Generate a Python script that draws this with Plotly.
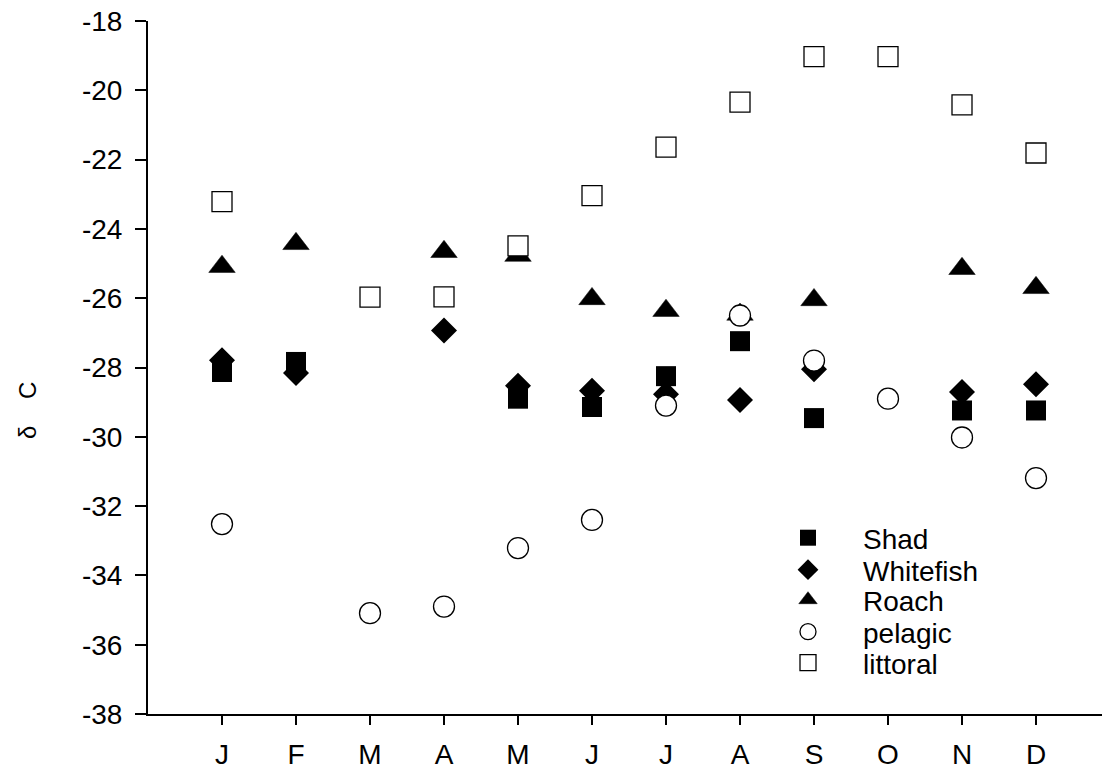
import plotly.graph_objects as go

months = ["J", "F", "M", "A", "M", "J", "J", "A", "S", "O", "N", "D"]
month_pos = list(range(1, 13))

shad = [-28.13, -27.84, None, None, -28.90, -29.14, -28.25, -27.24, -29.46, None, -29.24, -29.24]
whitefish = [-27.79, -28.16, None, -26.93, -28.53, -28.67, -28.77, -28.94, -28.05, None, -28.71, -28.48]
roach = [-25.09, -24.43, None, -24.66, -24.77, -26.02, -26.36, -26.47, -26.05, None, -25.15, -25.70]
pelagic = [-32.52, None, -35.09, -34.90, -33.21, -32.40, -29.10, -26.50, -27.80, -28.90, -30.02, -31.19]
littoral = [-23.21, None, -25.97, -25.96, -24.49, -23.04, -21.64, -20.34, -19.03, -19.03, -20.42, -21.81]

y_ticks = [-38, -36, -34, -32, -30, -28, -26, -24, -22, -20, -18]
y_ticktext = ["-38", "-36", "-34", "-32", "-30", "-28", "-26", "-24", "-22", "-20", "-18"]

W, H = 1102, 771
ML, MT, MB, MR = 148, 21, 57, 0
PW = W - ML - MR
PH = H - MT - MB

FONT = "Liberation Sans, Arial, sans-serif"

series = [
    ("Shad", shad, dict(symbol="square", size=20, color="black", line=dict(width=0))),
    ("Whitefish", whitefish, dict(symbol="diamond", size=20, color="black", line=dict(width=0))),
    ("Roach", roach, dict(symbol="triangle-up", size=23, color="black", line=dict(width=0.5, color="black"))),
    ("pelagic", pelagic, dict(symbol="circle", size=21, color="white", line=dict(width=1.3, color="black"))),
    ("littoral", littoral, dict(symbol="square", size=20, color="white", line=dict(width=1.3, color="black"))),
]

legend_rows_px = [538, 570, 600, 632, 663]
legend_names = ["legend", "legend2", "legend3", "legend4", "legend5"]

fig = go.Figure()
for i, (name, vals, mk) in enumerate(series):
    fig.add_trace(go.Scatter(
        x=month_pos, y=vals, mode="markers", name=name, marker=mk,
        legend=legend_names[i], showlegend=True,
    ))

legend_x_px = 753
lay_legends = {}
for i, ln in enumerate(legend_names):
    lay_legends[ln] = dict(
        x=(legend_x_px - ML) / PW,
        y=(H - MB - legend_rows_px[i]) / PH,
        xanchor="left", yanchor="middle",
        bgcolor="rgba(0,0,0,0)", borderwidth=0,
        font=dict(family=FONT, size=28, color="black"),
        itemwidth=100,
    )

fig.update_layout(
    width=W, height=H,
    margin=dict(l=ML, r=MR, t=MT, b=MB, pad=0, autoexpand=False),
    paper_bgcolor="white", plot_bgcolor="white",
    font=dict(family=FONT, size=28, color="black"),
    xaxis=dict(
        range=[0, (W - ML) / 74.0], tickvals=month_pos, ticktext=months,
        showgrid=False, zeroline=False, showline=True, linecolor="black", linewidth=2,
        ticks="outside", ticklen=9, tickwidth=1.5, tickcolor="black",
        ticklabelstandoff=5, tickfont=dict(size=28), automargin=False,
    ),
    yaxis=dict(
        range=[-38, -18], tickvals=y_ticks, ticktext=y_ticktext,
        showgrid=False, zeroline=False, showline=True, linecolor="black", linewidth=2,
        ticks="outside", ticklen=11, tickwidth=1.5, tickcolor="black",
        ticklabelstandoff=7, tickfont=dict(size=28), automargin=False,
    ),
    annotations=[dict(
        text="δ    C", textangle=-90, showarrow=False,
        xref="paper", yref="paper",
        x=(27 - ML) / PW, y=(H - MB - 411) / PH,
        xanchor="center", yanchor="middle",
        font=dict(family=FONT, size=24, color="black"),
    )],
    **lay_legends,
)

fig.write_html("out.html")
